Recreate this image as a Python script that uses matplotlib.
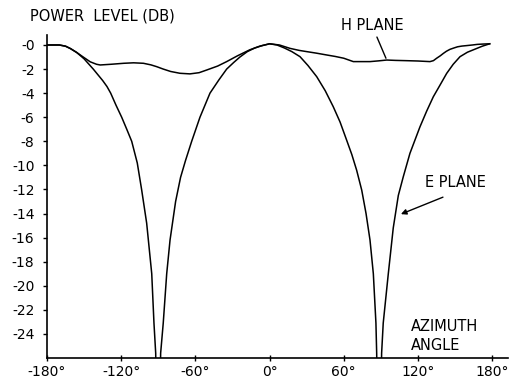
import matplotlib
matplotlib.use("Agg")
import matplotlib.pyplot as plt
import numpy as np

# E-plane pattern (azimuth deg, power dB)
e_angle = [-180, -170, -165, -161, -156, -150, -142.6, -135, -131.5, -128.5, -124.2, -119.6,
           -115.5, -111.5, -107, -103.5, -99.4, -95.3, -93.5, -92.1, -90, -88.1, -86, -83.2,
           -80.5, -76, -72, -68, -63, -56.3, -48.2, -41, -34.7, -29, -24, -18, -12, -6, 0,
           6, 12, 18, 24.6, 31, 38.1, 45, 51.5, 57, 62.3, 66.5, 70.4, 74.5, 78, 81.2, 83.9,
           86.0, 86.6, 88.6, 90.6, 91.9, 96, 100, 104.1, 108.1, 113.5, 121.6, 127, 132.4,
           138, 143.2, 148.5, 154, 160, 166, 172, 178]
e_db = [0, 0, -0.1, -0.3, -0.62, -1.15, -2.0, -2.95, -3.45, -4.0, -5.0, -6.0,
        -7.0, -8.0, -9.8, -12.0, -14.8, -19.0, -23.1, -25.6, -40, -25.6, -23.1, -19.0,
        -16.2, -13.0, -11.0, -9.6, -8.0, -6.0, -4.0, -2.9, -2.0, -1.45, -1.0, -0.55, -0.25,
        -0.05, 0.1, 0.0, -0.25, -0.55, -0.97, -1.7, -2.63, -3.8, -5.13, -6.4, -7.9, -9.1,
        -10.4, -12.05, -14.0, -16.2, -19.0, -23.1, -25.6, -40, -25.6, -23.1, -19.0, -15.2,
        -12.5, -10.95, -9.0, -6.8, -5.5, -4.3, -3.3, -2.36, -1.6, -0.97, -0.6, -0.35, -0.1, 0.1]

# H-plane pattern
h_angle = [-180, -170, -165, -161, -156, -150, -145, -140, -137, -128, -118, -110, -102,
           -96, -91.3, -86, -80, -72.5, -64.4, -57, -50.9, -42, -34.7, -26, -16, -8, 0,
           8, 16.5, 24, 30, 38, 46.2, 53, 60, 67.7, 75, 81.2, 88, 94.7, 102, 110, 120,
           129.7, 132.5, 135.1, 138, 140.5, 143, 145.9, 149, 152, 155.5, 159.4, 164, 168,
           173, 178]
h_db = [0, 0, -0.1, -0.3, -0.62, -1.05, -1.4, -1.6, -1.66, -1.6, -1.52, -1.48, -1.52,
        -1.65, -1.8, -2.0, -2.2, -2.35, -2.4, -2.3, -2.08, -1.75, -1.38, -0.9, -0.4, -0.1, 0.1,
        0.0, -0.28, -0.45, -0.55, -0.68, -0.83, -0.95, -1.1, -1.38, -1.38, -1.38, -1.32, -1.25,
        -1.28, -1.3, -1.33, -1.38, -1.3, -1.1, -0.9, -0.7, -0.52, -0.36, -0.25, -0.15, -0.09,
        -0.05, 0.0, 0.05, 0.08, 0.1]

x_ticks = [-180, -120, -60, 0, 60, 120, 180]
x_labels = ["-180°", "-120°", "-60°", "0°", "60°", "120°", "180°"]
y_ticks = [0, -2, -4, -6, -8, -10, -12, -14, -16, -18, -20, -22, -24]
y_labels = ["-0", "-2", "-4", "-6", "-8", "-10", "-12", "-14", "-16", "-18", "-20", "-22", "-24"]

plt.rcParams['font.family'] = ['DejaVu Sans']

fig = plt.figure(figsize=(5.11, 3.87), dpi=100)
ax = fig.add_axes([47/511, 1 - 358/387, (508 - 47)/511, (358 - 35)/387])

ax.plot(e_angle, e_db, color='black', lw=1.1)
ax.plot(h_angle, h_db, color='black', lw=1.1)

ax.set_xlim(-180, 192.8)
ax.set_ylim(-26.0, 0.83)

for s in ['top', 'right']:
    ax.spines[s].set_visible(False)
for s in ['left', 'bottom']:
    ax.spines[s].set_linewidth(1.2)
    ax.spines[s].set_color('black')

ax.set_xticks(x_ticks)
ax.set_xticklabels(x_labels, fontsize=10)
ax.set_yticks(y_ticks)
ax.set_yticklabels(y_labels, fontsize=10)
ax.tick_params(axis='y', direction='out', length=3, width=1, pad=6)
ax.tick_params(axis='x', direction='inout', length=4, width=1, pad=3)

fig.text(30/511, 1 - 16/387, "POWER  LEVEL (DB)", fontsize=10.5, va='center', ha='left')

# H plane label
ax.text(82.8, 1.66, "H PLANE", fontsize=10.5, ha='center', va='center', clip_on=False)
ax.annotate('', xy=(94.1, -1.1), xytext=(86.8, 0.66),
            arrowprops=dict(arrowstyle='-', color='black', lw=1, shrinkA=0, shrinkB=0),
            annotation_clip=False)

# E plane label
ax.text(149.9, -11.46, "E PLANE", fontsize=10.5, ha='center', va='center')
ax.annotate('', xy=(106.2, -14.05), xytext=(140.2, -12.64),
            arrowprops=dict(arrowstyle='-|>', color='black', lw=1, mutation_scale=8,
                            shrinkA=0, shrinkB=0))

ax.text(114.5, -24.15, "AZIMUTH\nANGLE", fontsize=10.5, ha='left', va='center',
        linespacing=1.35)

fig.savefig("out.png", dpi=100)
